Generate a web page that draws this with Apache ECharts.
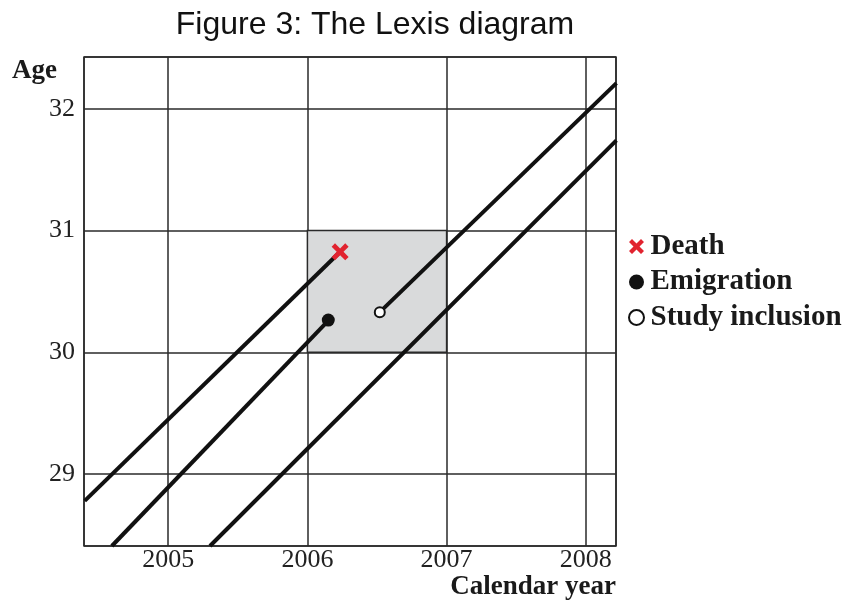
<!DOCTYPE html>
<html>
<head>
<meta charset="utf-8">
<script src="https://cdn.jsdelivr.net/npm/echarts@6/dist/echarts.min.js"></script>
<style>
  html, body { margin: 0; padding: 0; background: #fff; }
  #chart { width: 849px; height: 601px; }
</style>
</head>
<body>
<div id="chart"></div>
<script>
// life lines: [calendar year, age] at start and end
const lineDeath = [[2004.40, 28.78], [2006.23, 30.82]]
const lineEmigration = [[2004.595, 28.41], [2006.15, 30.26]]
const lineLower = [[2005.30, 28.41], [2008.22, 31.74]]
const lineInclusion = [[2006.52, 30.33], [2008.22, 32.21]]

// events
const deathPoints = [[2006.235, 30.825]]
const emigrationPoints = [[2006.15, 30.265]]
const inclusionPoints = [[2006.52, 30.33]]

// shaded follow-up square
const boxYears = [2006, 2007]
const boxAges = [30, 31]

const xRange = [2004.395, 2008.217]
const yRange = [28.41, 32.425]

const serif = 'Liberation Serif'
const crossPath = 'path://M2,0L5,3L8,0L10,2L7,5L10,8L8,10L5,7L2,10L0,8L3,5L0,2Z'

const chart = echarts.init(document.getElementById('chart'))

function lifeLine(name, data) {
  return {
    name: name,
    type: 'line',
    data: data,
    showSymbol: false,
    silent: true,
    lineStyle: { color: '#111', width: 4 },
    z: 3
  }
}

const intLabel = v => (Math.abs(v - Math.round(v)) < 1e-6 ? String(Math.round(v)) : '')

chart.setOption({
  animation: false,
  backgroundColor: '#fff',
  title: {
    text: 'Figure 3: The Lexis diagram',
    left: 370,
    top: 4,
    textAlign: 'center',
    textStyle: { fontFamily: 'Liberation Sans', fontWeight: 'normal', fontSize: 32, color: '#111' }
  },
  legend: {
    orient: 'vertical',
    left: 623,
    top: 227,
    itemWidth: 18,
    itemHeight: 15,
    itemGap: 6.5,
    data: [
      { name: 'Death', icon: crossPath },
      { name: 'Emigration', icon: 'circle', itemStyle: { color: '#111' } },
      { name: 'Study inclusion', icon: 'circle' }
    ],
    textStyle: { fontFamily: serif, fontWeight: 'bold', fontSize: 29, color: '#1a1a1a' }
  },
  grid: {
    left: 84,
    right: 233,
    top: 57,
    bottom: 54,
    show: true,
    borderColor: '#2a2a2a',
    borderWidth: 1.5,
    backgroundColor: 'transparent'
  },
  xAxis: {
    type: 'value',
    min: xRange[0],
    max: xRange[1],
    splitNumber: 4,
    name: 'Calendar year',
    nameLocation: 'end',
    nameGap: 0,
    nameMoveOverlap: false,
    nameTextStyle: {
      fontFamily: serif, fontWeight: 'bold', fontSize: 27, color: '#1a1a1a',
      align: 'right', verticalAlign: 'top', padding: [28, 0, 0, 0]
    },
    axisLine: { show: false },
    axisTick: { show: false },
    axisLabel: { formatter: intLabel, fontFamily: serif, fontSize: 26, color: '#222', margin: 1 },
    splitLine: { show: true, lineStyle: { color: '#2a2a2a', width: 1.5 } }
  },
  yAxis: {
    type: 'value',
    min: yRange[0],
    max: yRange[1],
    splitNumber: 4,
    name: 'Age',
    nameLocation: 'end',
    nameGap: -28,
    nameTextStyle: {
      fontFamily: serif, fontWeight: 'bold', fontSize: 27, color: '#1a1a1a',
      align: 'right', padding: [0, 27, 0, 0]
    },
    axisLine: { show: false },
    axisTick: { show: false },
    axisLabel: { formatter: intLabel, fontFamily: serif, fontSize: 26, color: '#222', margin: 9 },
    splitLine: { show: true, lineStyle: { color: '#2a2a2a', width: 1.5 } }
  },
  series: [
    {
      name: 'Observation square',
      type: 'line',
      data: [],
      silent: true,
      markArea: {
        silent: true,
        itemStyle: { color: '#d9dadb', opacity: 1, borderColor: '#2a2a2a', borderWidth: 1.5 },
        data: [[{ xAxis: boxYears[0], yAxis: boxAges[0] }, { xAxis: boxYears[1], yAxis: boxAges[1] }]]
      },
      z: 1
    },
    lifeLine('life1', lineDeath),
    lifeLine('life2', lineEmigration),
    lifeLine('life3', lineLower),
    lifeLine('life4', lineInclusion),
    {
      name: 'Death',
      type: 'scatter',
      data: deathPoints,
      symbol: crossPath,
      symbolSize: 17,
      itemStyle: { color: '#e1232f', opacity: 1 },
      z: 5
    },
    {
      name: 'Emigration',
      type: 'scatter',
      data: emigrationPoints,
      symbol: 'circle',
      symbolSize: 13,
      itemStyle: { color: '#111', opacity: 1 },
      z: 5
    },
    {
      name: 'Study inclusion',
      type: 'scatter',
      data: inclusionPoints,
      symbol: 'circle',
      symbolSize: 10,
      itemStyle: { color: '#fff', borderColor: '#111', borderWidth: 2, opacity: 1 },
      z: 5
    }
  ]
})
</script>
</body>
</html>
